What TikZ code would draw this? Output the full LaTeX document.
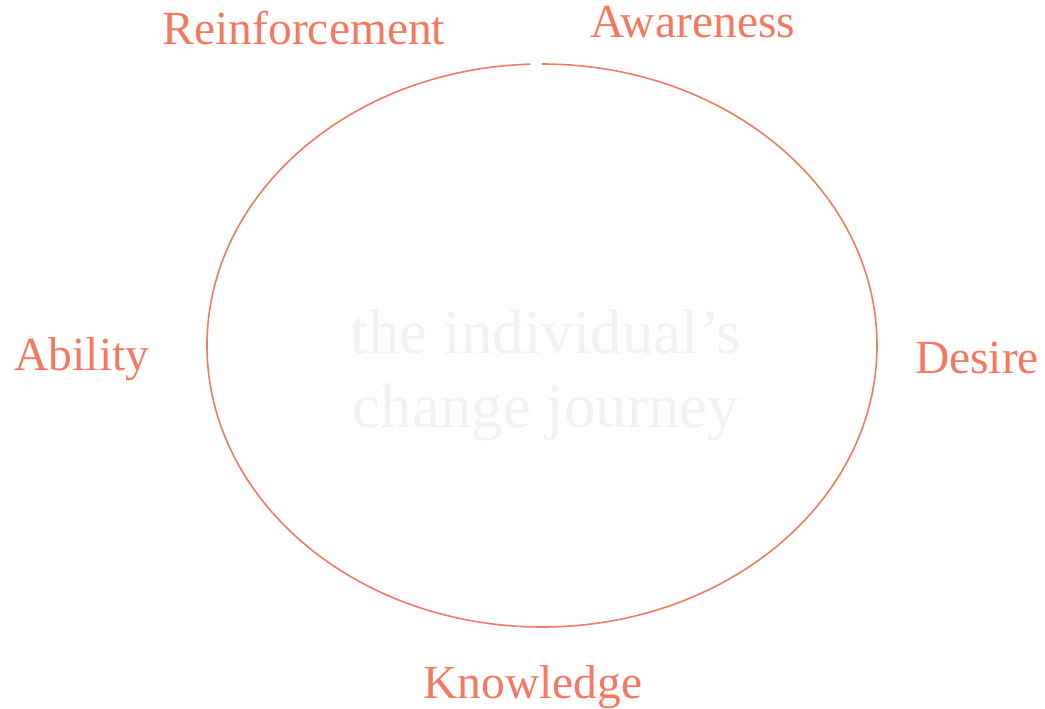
\documentclass[tikz,border=0pt]{standalone}
\usepackage{fontspec}
\setmainfont{Liberation Serif}
\definecolor{salmon}{RGB}{244,121,96}
\definecolor{ghost}{RGB}{242,242,242}
\begin{document}
\begin{tikzpicture}[x=1pt,y=-1pt,
  lbl/.style={text=salmon,font=\fontsize{47.5}{57}\selectfont,inner sep=0pt,anchor=base},
  ghosttext/.style={text=ghost,font=\fontsize{63}{75}\selectfont,inner sep=0pt,anchor=base}]
\useasboundingbox (0,0) rectangle (1045,709);
\draw[salmon,line width=1.6pt] (542,64) arc[start angle=90,end angle=-268,x radius=335pt,y radius=281.5pt];
\node[lbl] (reinf) at (304,45) {Reinforcement};
\node[lbl] (aware) at (693,38) {Awareness};
\node[lbl] (abil) at (82,370) {Ability};
\node[lbl] (desire) at (977,373) {Desire};
\node[lbl] (know) at (533,698) {Knowledge};
\node[ghosttext] (c1) at (546,353) {the individual’s};
\node[ghosttext] (c2) at (546,427) {change journey};
\end{tikzpicture}
\end{document}
